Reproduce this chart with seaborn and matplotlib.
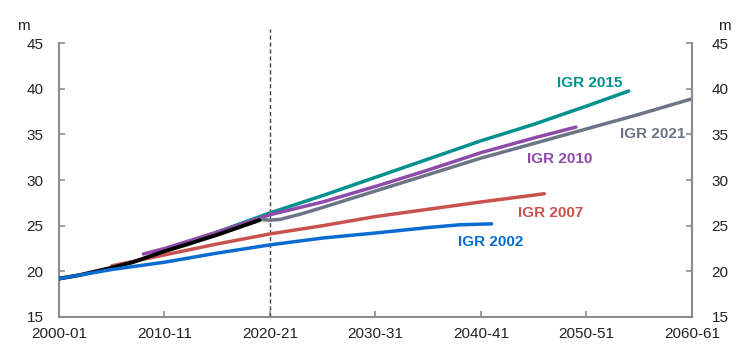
import matplotlib
matplotlib.use("Agg")
import matplotlib.pyplot as plt
import seaborn as sns
import pandas as pd

sns.set_theme(style="white")
plt.rcParams['font.family'] = ['Liberation Sans', 'DejaVu Sans']

# ---- data (year = first year of financial year), population in millions ----
igr2002_years = [2000, 2005, 2010, 2015, 2020, 2025, 2030, 2035, 2038, 2041]
igr2002_vals = [19.2, 20.2, 21.0, 22.0, 22.9, 23.65, 24.2, 24.8, 25.1, 25.2]

igr2007_years = [2005, 2010, 2015, 2020, 2025, 2030, 2035, 2040, 2046]
igr2007_vals = [20.6, 21.8, 23.0, 24.1, 25.0, 26.0, 26.8, 27.6, 28.5]

igr2010_years = [2008, 2010, 2015, 2020, 2025, 2030, 2035, 2040, 2045, 2049]
igr2010_vals = [21.9, 22.5, 24.3, 26.2, 27.6, 29.3, 31.1, 33.0, 34.6, 35.8]

igr2015_years = [2013, 2015, 2020, 2025, 2030, 2035, 2040, 2045, 2050, 2054]
igr2015_vals = [23.5, 24.3, 26.4, 28.3, 30.3, 32.3, 34.3, 36.1, 38.1, 39.75]

igr2021_years = [2019, 2020, 2021, 2023, 2025, 2030, 2035, 2040, 2045, 2050, 2055, 2060]
igr2021_vals = [25.7, 25.6, 25.7, 26.3, 27.0, 28.8, 30.6, 32.4, 34.0, 35.6, 37.2, 38.9]

actual_years = [2000, 2002, 2005, 2007, 2010, 2012, 2015, 2017, 2019]
actual_vals = [19.2, 19.6, 20.4, 21.0, 22.2, 22.9, 24.0, 24.8, 25.6]

tick_years = [2000, 2010, 2020, 2030, 2040, 2050, 2060]
tick_labels = ["2000-01", "2010-11", "2020-21", "2030-31", "2040-41", "2050-51", "2060-61"]
y_ticks = [15, 20, 25, 30, 35, 40, 45]

series = [
    ("IGR 2015", igr2015_years, igr2015_vals, "#00918F", 2050.3, 40.6),
    ("IGR 2010", igr2010_years, igr2010_vals, "#8E4BAA", 2047.5, 32.3),
    ("IGR 2021", igr2021_years, igr2021_vals, "#6C7585", 2056.3, 35.0),
    ("IGR 2007", igr2007_years, igr2007_vals, "#C9524F", 2046.6, 26.4),
    ("Actual", actual_years, actual_vals, "#000000", None, None),
    ("IGR 2002", igr2002_years, igr2002_vals, "#0A6BD0", 2040.9, 23.2),
]

fig = plt.figure(figsize=(7.39, 3.59), dpi=100)
ax = fig.add_axes([0.0798, 0.117, 0.8566, 0.763])

for i, (name, xs, ys, col, lx, ly) in enumerate(series):
    df = pd.DataFrame({"year": xs, "value": ys})
    sns.lineplot(data=df, x="year", y="value", ax=ax, color=col,
                 linewidth=2.8 if name == "Actual" else 2.5,
                 zorder=3 + i, solid_capstyle="round")
    if lx is not None:
        ax.text(lx, ly, name, color=col, fontsize=11, fontweight="bold",
                ha="center", va="center")

ax.axvline(2020, ymin=0, ymax=1.052, color="#444444", linewidth=1.0,
           linestyle=(0, (3, 2)), clip_on=False, zorder=2)

ax.set_xlim(2000, 2060)
ax.set_ylim(15, 45)
ax.set_xticks(tick_years)
ax.set_xticklabels(tick_labels)
ax.set_yticks(y_ticks)
ax.set_xlabel("")
ax.set_ylabel("")

grey = "#8C8C8C"
for s in ["left", "right", "bottom"]:
    ax.spines[s].set_visible(True)
    ax.spines[s].set_color(grey)
    ax.spines[s].set_linewidth(1.5)
ax.spines["top"].set_visible(False)

ax.tick_params(axis="x", direction="in", length=4, width=1.2, color=grey,
               labelsize=11, labelcolor="#222222", pad=7, bottom=True)
ax.tick_params(axis="y", direction="in", length=4, width=1.2, color=grey,
               labelsize=11, labelcolor="#222222", pad=11, left=True)

ax2 = ax.twinx()
ax2.set_ylim(15, 45)
ax2.set_yticks(y_ticks)
for s in ["left", "top", "bottom"]:
    ax2.spines[s].set_visible(False)
ax2.spines["right"].set_color(grey)
ax2.spines["right"].set_linewidth(1.5)
ax2.tick_params(axis="y", direction="in", length=4, width=1.2, color=grey,
                labelsize=11, labelcolor="#222222", pad=14, right=True)
ax2.grid(False)
ax.grid(False)

fig.text(23 / 739, 1 - 26 / 359, "m", fontsize=11, color="#222222",
         ha="center", va="center")
fig.text(724 / 739, 1 - 26 / 359, "m", fontsize=11, color="#222222",
         ha="center", va="center")

fig.savefig("out.png", dpi=100)
